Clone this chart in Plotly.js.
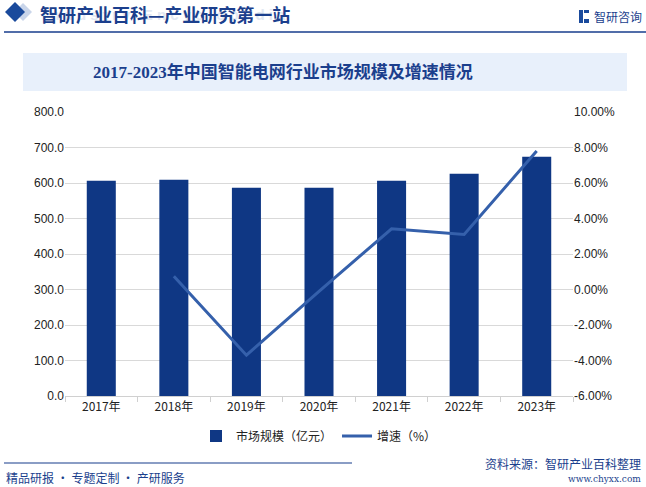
<!DOCTYPE html>
<html><head><meta charset="utf-8">
<script src="https://cdn.plot.ly/plotly-3.0.1.min.js"></script>
<style>html,body{margin:0;padding:0;background:#fff}#c{width:646px;height:487px}</style>
</head><body><div id="c"></div>
<script>
const years = ['2017年','2018年','2019年','2020年','2021年','2022年','2023年'];
const marketSize = [606.3, 609.0, 586.6, 586.6, 606.0, 626.0, 674.0];
const growthYears = ['2018年','2019年','2020年','2021年','2022年','2023年'];
const growthRate = [0.75, -3.7, -0.1, 3.42, 3.1, 7.8];
const leftTicks = [0,100,200,300,400,500,600,700,800];
const rightTicks = [-6,-4,-2,0,2,4,6,8,10];

const W=646,H=487, ML=65, MR=73, MT=112, MB=91;
const PW=W-ML-MR, PH=H-MT-MB;
const px = x=>(x-ML)/PW, py = y=>(H-MB-y)/PH;
const cjk = '"Noto Sans CJK SC", "Liberation Sans", sans-serif';
const tickFont = {family:'"Liberation Sans", Arial, sans-serif', size:12, color:'#222'};
const navy = '#1b3f8d';

const traces = [
  {type:'bar', x:years, y:marketSize, name:'市场规模（亿元）', marker:{color:'#0f3784'}, width:0.4, yaxis:'y'},
  {type:'scatter', mode:'lines', x:growthYears, y:growthRate, name:'增速（%）', line:{color:'#3560ab', width:3}, yaxis:'y2'}
];

const shapes = [
  {type:'rect', xref:'paper', yref:'paper', x0:px(23), x1:px(627), y0:py(53), y1:py(91), fillcolor:'#e8f0fb', line:{width:0}, layer:'below'},
  {type:'line', xref:'paper', yref:'paper', x0:px(4), x1:px(646), y0:py(32), y1:py(32), line:{color:'#173d8c', width:1.5}},
  {type:'line', xref:'paper', yref:'paper', x0:px(4), x1:px(352), y0:py(463), y1:py(463), line:{color:'#173d8c', width:1.2}},
  {type:'path', xref:'paper', yref:'paper',
   path:`M ${px(14)} ${py(12)} L ${px(23)} ${py(3)} L ${px(32)} ${py(12)} L ${px(23)} ${py(21)} Z`,
   fillcolor:'#c9d5ea', line:{width:0}},
  {type:'path', xref:'paper', yref:'paper',
   path:`M ${px(5)} ${py(12)} L ${px(15)} ${py(2)} L ${px(25)} ${py(12)} L ${px(15)} ${py(22)} Z`,
   fillcolor:'#1a4a9c', line:{width:0}},
  {type:'rect', xref:'paper', yref:'paper', x0:px(579), x1:px(583), y0:py(10), y1:py(23), fillcolor:'#1a4a9c', line:{width:0}},
  {type:'rect', xref:'paper', yref:'paper', x0:px(584), x1:px(589), y0:py(10), y1:py(13), fillcolor:'#1a4a9c', line:{width:0}},
  {type:'rect', xref:'paper', yref:'paper', x0:px(584), x1:px(589), y0:py(19), y1:py(23), fillcolor:'#1a4a9c', line:{width:0}}
];

const annotations = [
  {x:px(40), y:py(15), xanchor:'left', text:'<b>I n d u s t r y   E n c y c l o p e d i a</b>', font:{family:'"Liberation Sans", sans-serif', size:15, color:'#e2e8f2'}},
  {x:px(38), y:py(14), xanchor:'left', text:'<b>智研产业百科—产业研究第一站</b>', font:{family:'"Noto Sans CJK SC", sans-serif', size:18, color:navy}},
  {x:px(592), y:py(16), xanchor:'left', text:'智研咨询', font:{family:cjk, size:12, color:navy}},
  {x:px(283), y:py(72), xanchor:'center', text:'<b>2017-2023年中国智能电网行业市场规模及增速情况</b>', font:{family:'"Liberation Serif", "Noto Sans CJK SC", serif', size:17, color:navy}},
  {x:px(4), y:py(477), xanchor:'left', text:'精品研报 · 专题定制 · 产研服务', font:{family:cjk, size:12, color:navy}},
  {x:px(643), y:py(463), xanchor:'right', text:'资料来源：智研产业百科整理', font:{family:cjk, size:12, color:navy}},
  {x:px(643), y:py(479), xanchor:'right', text:'www.chyxx.com', font:{family:'"DejaVu Serif", serif', size:9, color:navy}}
].map(a=>Object.assign({xref:'paper', yref:'paper', yanchor:'middle', showarrow:false}, a));

const layout = {
  width:W, height:H, margin:{l:ML,r:MR,t:MT,b:MB},
  paper_bgcolor:'#fff', plot_bgcolor:'#fff',
  font:{family:cjk},
  showlegend:true,
  legend:{orientation:'h', x:0.5, xanchor:'center', y:1-436/H, yref:'container', yanchor:'middle', font:{family:cjk,size:12,color:'#222'}, traceorder:'normal'},
  xaxis:{type:'category', tickfont:{family:cjk,size:12,color:'#222'}, showline:true, linecolor:'#d0d0d0', ticks:'outside', ticklen:5, tickcolor:'#d0d0d0', showgrid:false, tickson:'boundaries'},
  yaxis:{range:[0,800], tickvals:leftTicks, ticktext:leftTicks.map(v=>v.toFixed(1)), tickfont:tickFont, gridcolor:'#d9d9d9', zeroline:false, showline:false},
  yaxis2:{range:[-6,10], overlaying:'y', side:'right', tickvals:rightTicks, ticktext:rightTicks.map(v=>v.toFixed(2)+'%'), tickfont:tickFont, showgrid:false, zeroline:false},
  shapes:shapes,
  annotations:annotations
};

Plotly.newPlot('c', traces, layout, {displayModeBar:false, staticPlot:true});
</script></body></html>
